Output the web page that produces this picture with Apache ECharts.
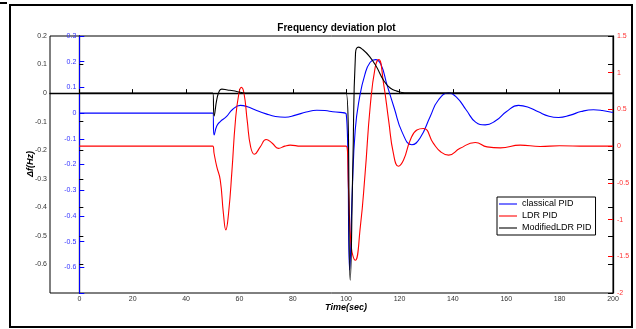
<!DOCTYPE html>
<html>
<head>
    <meta charset="UTF-8">
    <title>Frequency deviation plot</title>
    <script type="text/javascript" src="https://cdn.jsdelivr.net/npm/echarts@6/dist/echarts.min.js"></script>
</head>
<body style="margin: 0; background: #fff">
<div id="container" style="width: 636px; height: 329px"></div>
<script type="text/javascript">
    // values, [time (s), deviation]
    const timeTicks = [0, 20, 40, 60, 80, 100, 120, 140, 160, 180, 200];
    const seriesNames = ['classical PID', 'LDR PID', 'ModifiedLDR PID'];

    // blue, own inner left axis (-0.7 .. 0.3)
    const classicalPID = [
        [0, 0], [50, 0], [50.5, -0.085], [51.5, -0.05], [52.8, -0.033], [55, -0.015], [57.5, 0.015],
        [60.3, 0.03], [63, 0.025], [66, 0.012], [70, -0.003], [73.5, -0.013], [77.1, -0.016],
        [81, -0.008], [85, 0.004], [89, 0.011], [92, 0.01], [95, 0.005], [100, -0.003],
        [101.3, -0.61], [102.3, -0.3], [103.4, -0.065], [105, 0.06], [107, 0.15], [109, 0.198],
        [111, 0.208], [113, 0.19], [115.3, 0.11], [118, 0.02], [121, -0.075], [124.6, -0.123],
        [127.7, -0.097], [131.5, -0.013], [134.5, 0.05], [138.4, 0.078], [141.5, 0.06],
        [145, 0.012], [148.5, -0.035], [152.1, -0.046], [156, -0.03], [160, 0.005], [164.6, 0.03],
        [168, 0.024], [172, 0.005], [176, -0.012], [179.6, -0.017], [184, -0.008], [188, 0.006],
        [192.7, 0.013], [196, 0.01], [200, 0.002]
    ];

    // red, right axis (-2 .. 1.5)
    const ldrPID = [
        [0, 0], [50, 0], [50.5, -0.1], [51.5, -0.28], [52.8, -0.46], [54, -0.92], [54.9, -1.14],
        [55.9, -0.92], [57.2, -0.33], [58.5, 0.35], [59.8, 0.72], [60.7, 0.8], [61.7, 0.72],
        [62.9, 0.35], [64.2, -0.01], [65.6, -0.11], [67.8, -0.01], [70, 0.09], [72.3, 0.04],
        [74.6, -0.03], [77, 0.0], [79, 0.014], [83, 0.0], [100, 0],
        [100.9, -0.6], [101.9, -1.37], [103.4, -1.555], [105.3, -1.1], [107.1, -0.37], [109, 0.54],
        [110.9, 1.08], [112.2, 1.18], [114, 0.855], [115.9, 0.355], [117.7, -0.1], [119.6, -0.273],
        [121.5, -0.19], [124, 0.08], [126.5, 0.22], [129, 0.24], [132.7, 0.037], [135.5, -0.08],
        [138.4, -0.123], [142.7, -0.03], [148.4, 0.05], [152.8, -0.01], [157.8, -0.023],
        [165.2, 0.014], [172.7, -0.004], [180, 0.005], [190, 0.0], [200, 0]
    ];

    // black, outer left axis (-0.7 .. 0.2)
    const modifiedLDRPID = [
        [0, 0], [50, 0], [50.5, -0.08], [51.5, -0.023], [52.5, 0.008], [53.4, 0.014], [55.5, 0.011],
        [57.7, 0.008], [60.3, 0.003], [63, 0], [100, 0], [101.5, -0.655], [102.5, -0.25],
        [103.5, 0.14], [104.6, 0.161], [106.3, 0.152], [108.8, 0.128], [111.3, 0.093], [114, 0.045],
        [116.5, 0.018], [119, 0.007], [122, 0.001], [200, 0]
    ];

    const font = 'Liberation Sans';
    const dom = document.getElementById('container');
    const myChart = echarts.init(dom);

    function hideBottom(bottom) {
        return function (v) {
            return Math.abs(v - bottom) < 1e-9 ? '' : String(+v.toFixed(2));
        };
    }

    function lineSeries(name, axis, color, data) {
        return {
            name: name,
            type: 'line',
            yAxisIndex: axis,
            symbol: 'none',
            smooth: 0.5,
            lineStyle: {color: color, width: 1.1},
            itemStyle: {color: color},
            data: data
        };
    }

    const option = {
        animation: false,
        backgroundColor: '#fff',
        title: {
            text: 'Frequency deviation plot',
            left: 331.5,
            top: 18,
            textAlign: 'center',
            textStyle: {fontFamily: font, fontSize: 10, fontWeight: 'bold', color: '#000'}
        },
        legend: {
            data: seriesNames,
            orient: 'vertical',
            left: 497,
            top: 197,
            padding: [2, 4, 2, 2],
            icon: 'path://M0,0H20V1.2H0Z',
            itemWidth: 18,
            itemHeight: 10,
            itemGap: 2,
            borderColor: '#000',
            borderWidth: 1,
            backgroundColor: '#fff',
            textStyle: {fontFamily: font, fontSize: 9, color: '#000', lineHeight: 10}
        },
        grid: {
            left: 50, right: 23, top: 36, bottom: 36,
            show: true,
            borderColor: '#000',
            borderWidth: 1
        },
        xAxis: {
            type: 'value',
            min: -11,
            max: 200,
            splitLine: {show: false},
            axisLine: {lineStyle: {color: '#000', width: 1.3}},
            axisTick: {inside: true, length: 4, lineStyle: {color: '#000'}, customValues: timeTicks},
            axisLabel: {
                customValues: timeTicks,
                margin: 3,
                fontFamily: font, fontSize: 7, color: '#333'
            }
        },
        yAxis: [{
            // black
            type: 'value', position: 'left',
            min: -0.7, max: 0.2, interval: 0.1,
            splitLine: {show: false},
            axisLine: {show: true, lineStyle: {color: '#000', width: 1.3}},
            axisTick: {inside: true, length: 4, lineStyle: {color: '#000'}},
            axisLabel: {formatter: hideBottom(-0.7), margin: 3, fontFamily: font, fontSize: 7, color: '#333'}
        }, {
            // blue, sits at t = 0
            type: 'value', position: 'left', offset: -29.3,
            min: -0.7, max: 0.3, interval: 0.1,
            splitLine: {show: false},
            axisLine: {show: true, onZero: false, lineStyle: {color: '#0000ff', width: 1}},
            axisTick: {inside: true, length: 5, lineStyle: {color: '#0000ff'}},
            axisLabel: {formatter: hideBottom(-0.7), margin: 3, fontFamily: font, fontSize: 7, color: '#3333ff'}
        }, {
            // red
            type: 'value', position: 'right',
            min: -2, max: 1.5, interval: 0.5,
            splitLine: {show: false},
            axisLine: {show: false},
            axisTick: {show: true, inside: true, length: 5, lineStyle: {color: '#ff0000'}},
            axisLabel: {margin: 4, fontFamily: font, fontSize: 7, color: '#ff3333'}
        }, {
            // black ticks mirrored on the right
            type: 'value', position: 'right',
            min: -0.7, max: 0.2, interval: 0.1,
            splitLine: {show: false},
            axisLine: {show: true, lineStyle: {color: '#000', width: 1.3}},
            axisTick: {show: true, inside: true, length: 5, lineStyle: {color: '#000'}},
            axisLabel: {show: false}
        }],
        series: [
            lineSeries(seriesNames[0], 1, '#0000ff', classicalPID),
            lineSeries(seriesNames[1], 2, '#ff0000', ldrPID),
            lineSeries(seriesNames[2], 0, '#000000', modifiedLDRPID)
        ],
        graphic: [{
            type: 'rect',
            shape: {x: 10, y: 5, width: 622, height: 322},
            style: {fill: 'none', stroke: '#000', lineWidth: 2},
            silent: true
        }, {
            type: 'line',
            shape: {x1: 0, y1: 3, x2: 7, y2: 3},
            style: {stroke: '#000', lineWidth: 2},
            silent: true
        }, {
            type: 'text',
            x: 346, y: 308,
            style: {
                text: 'Time(sec)', fontFamily: font, fontSize: 9, fontWeight: 'bold', fontStyle: 'italic',
                fill: '#000', align: 'center', verticalAlign: 'middle'
            }
        }, {
            type: 'text',
            x: 31, y: 164,
            rotation: Math.PI / 2,
            style: {
                text: 'Δf(Hz)', fontFamily: font, fontSize: 9, fontWeight: 'bold', fontStyle: 'italic',
                fill: '#000', align: 'center', verticalAlign: 'middle'
            }
        }]
    };

    myChart.setOption(option, true);
</script>
</body>
</html>
